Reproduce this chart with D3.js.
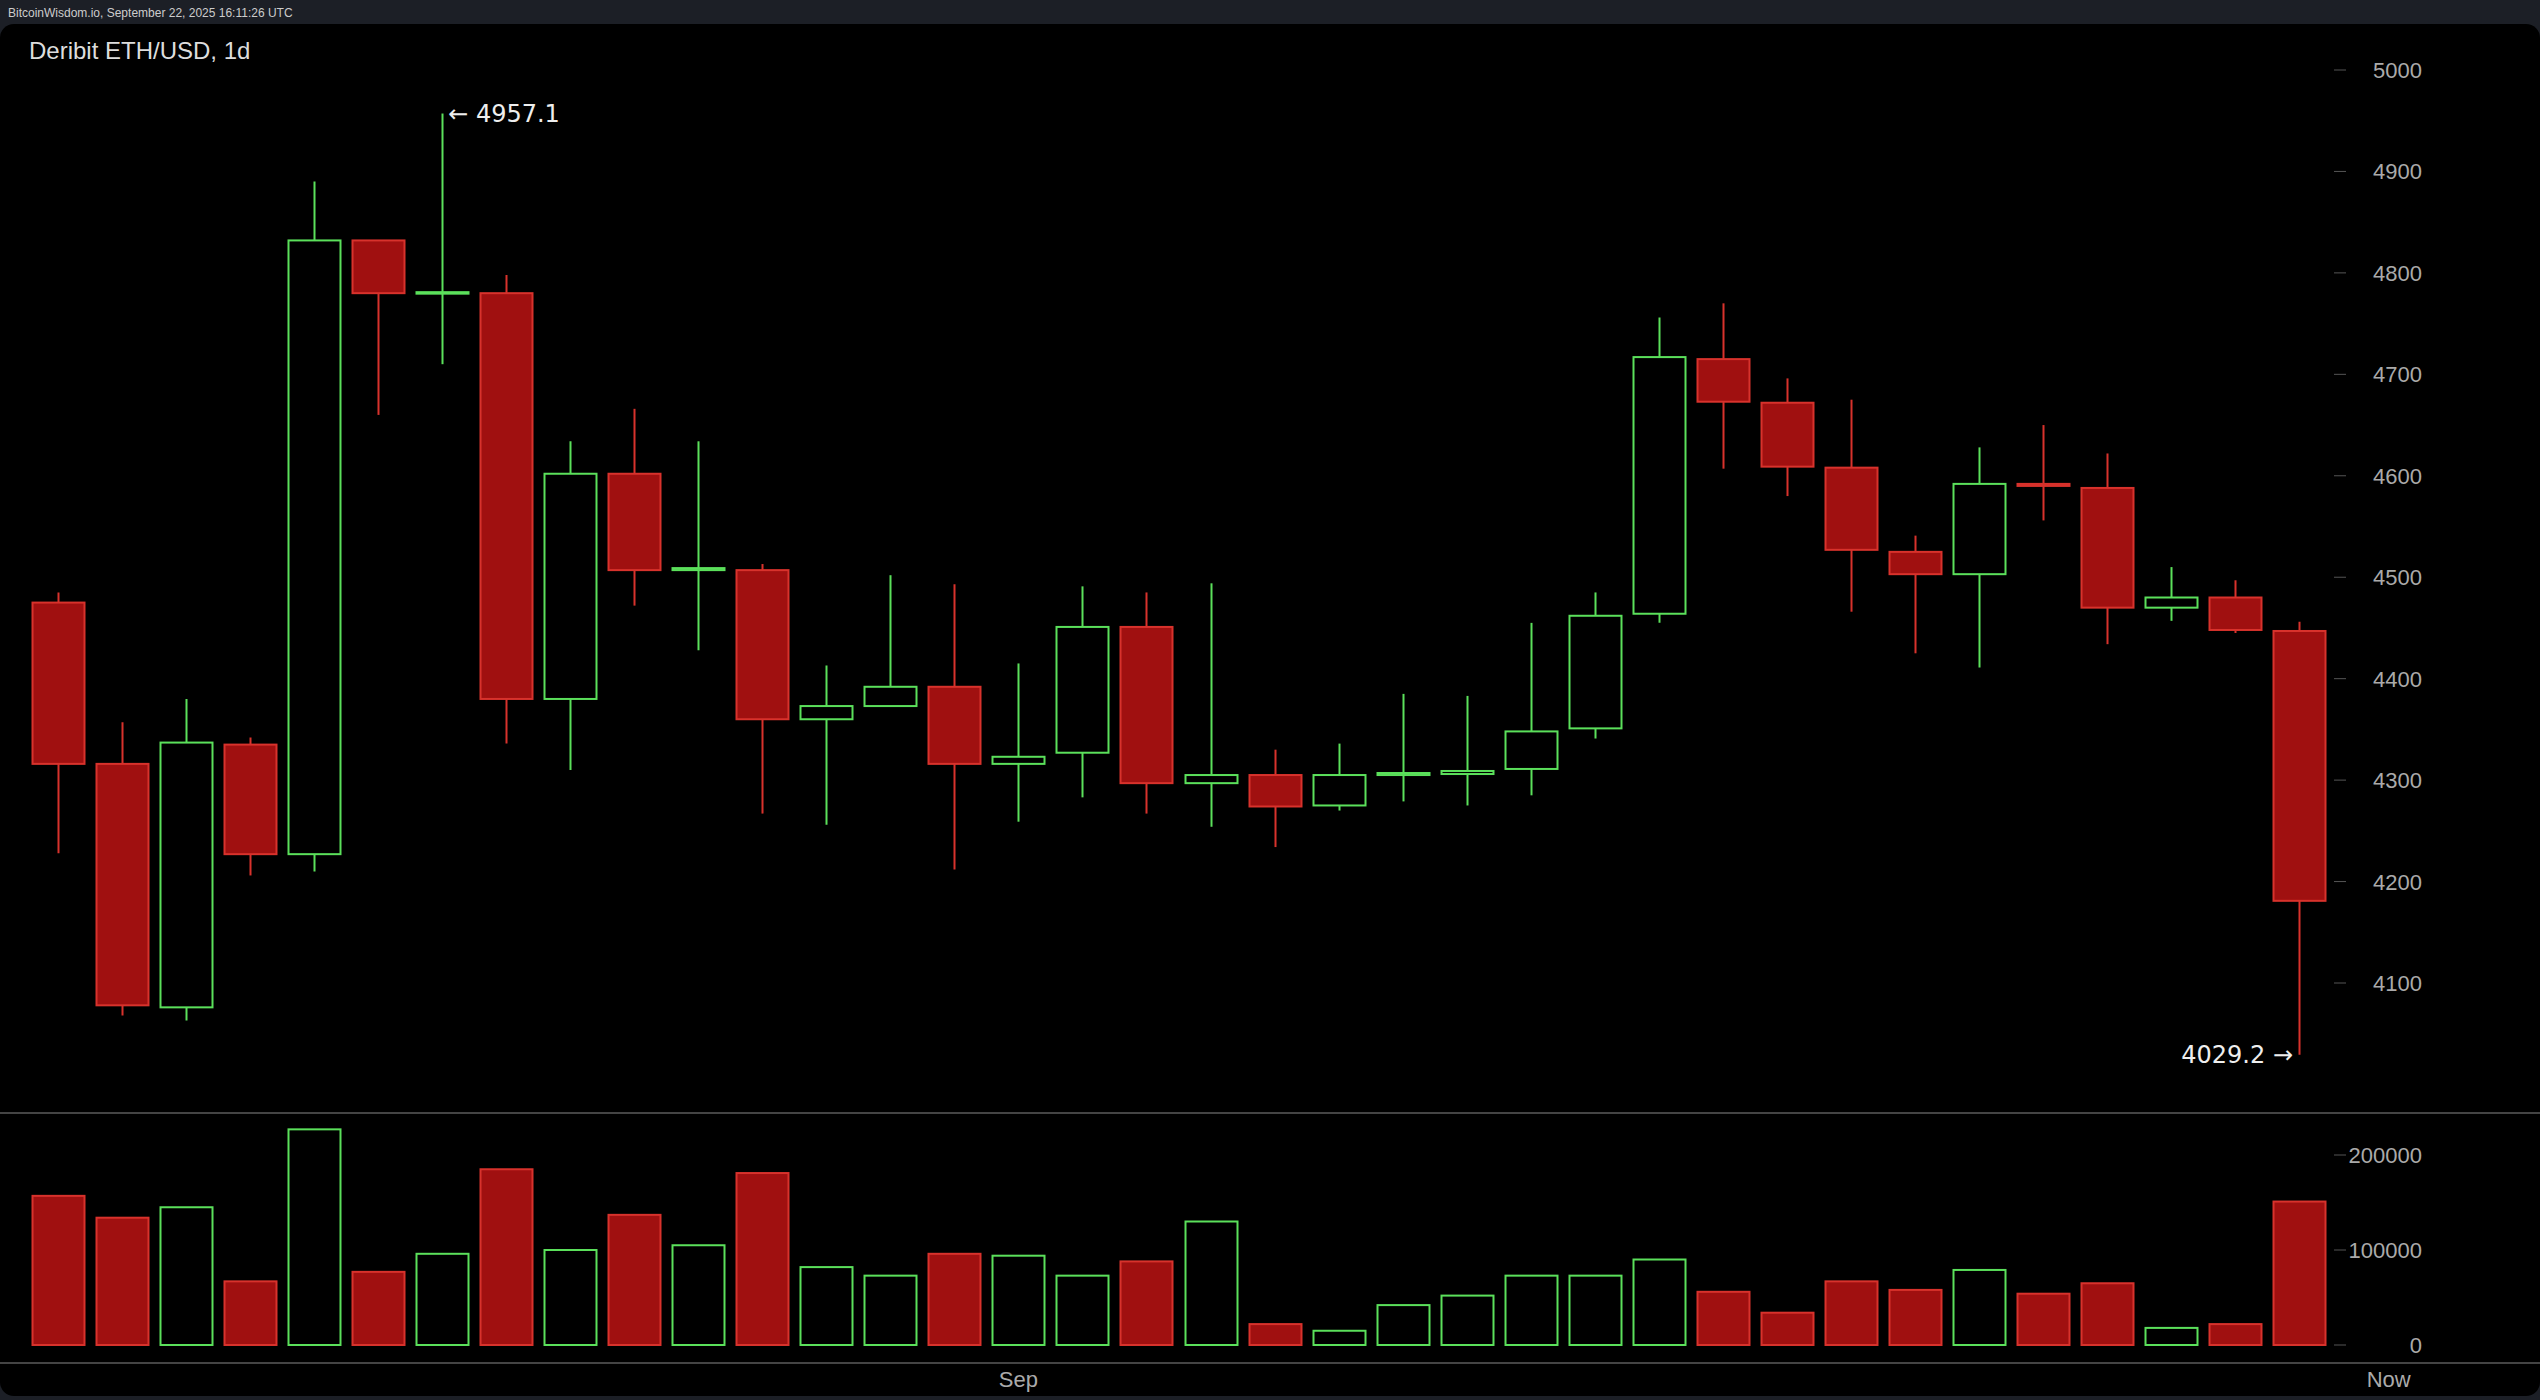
<!DOCTYPE html><html><head><meta charset="utf-8">
<script src="https://cdn.jsdelivr.net/npm/d3@7"></script>
<style>body{margin:0;background:#1c1f26;}svg{display:block}</style></head><body>
<svg id="c" width="2540" height="1400"></svg>
<script>
const opens =[4475,4316,4076,4335,4227,4832,4780,4780,4380,4602,4507,4507,4360,4373,4392,4316,4327,4451,4297,4305,4275,4305,4306,4311,4351,4464,4715,4672,4608,4525,4503,4592,4588,4470,4480,4447];
const closes=[4316,4078,4337,4227,4832,4780,4781,4380,4602,4507,4509,4360,4373,4392,4316,4323,4451,4297,4305,4274,4305,4307,4309,4348,4462,4717,4673,4609,4527,4503,4592,4590,4470,4480,4448,4181];
const highs =[4485,4357,4380,4342,4890,4832,4957.1,4798,4634,4666,4634,4513,4413,4502,4493,4415,4491,4485,4494,4330,4336,4385,4383,4455,4485,4756,4770,4696,4675,4541,4628,4650,4622,4510,4497,4456];
const lows  =[4228,4068,4063,4206,4210,4660,4710,4336,4310,4472,4428,4267,4256,4373,4212,4259,4283,4267,4254,4234,4270,4279,4275,4285,4341,4455,4607,4580,4466,4425,4411,4556,4434,4457,4445,4029.2];
const volumes=[157000,134000,145000,67000,227000,77000,96000,185000,100000,137000,105000,181000,82000,73000,96000,94000,73000,88000,130000,22000,15000,42000,52000,73000,73000,90000,56000,34000,67000,58000,79000,54000,65000,18000,22000,151000];
const priceTicks=[4100,4200,4300,4400,4500,4600,4700,4800,4900,5000];
const volTicks=[0,100000,200000];
const xLabels=[{i:15,t:"Sep"},{i:36.4,t:"Now"}];

const svg=d3.select("#c");
svg.append("rect").attr("x",0).attr("y",24).attr("width",2540).attr("height",1372).attr("rx",14).attr("fill","#000");
svg.append("text").attr("x",8).attr("y",17).attr("fill","#ccc").attr("font-size",12).attr("font-family","Liberation Sans").text("BitcoinWisdom.io, September 22, 2025 16:11:26 UTC");
svg.append("text").attr("x",29).attr("y",59).attr("fill","#ddd").attr("font-size",24).attr("font-family","Liberation Sans").text("Deribit ETH/USD, 1d");
svg.append("line").attr("x1",0).attr("x2",2540).attr("y1",1113).attr("y2",1113).attr("stroke","#444").attr("stroke-width",2);
svg.append("line").attr("x1",0).attr("x2",2540).attr("y1",1363).attr("y2",1363).attr("stroke","#444").attr("stroke-width",2);

const x=d3.scaleLinear().domain([0,35]).range([58,2299]);
const y=d3.scaleLinear().domain([4100,5000]).range([983,70]);
const yv=d3.scaleLinear().domain([0,200000]).range([1345,1155]);
const bw=52;
const red="#a01010", redS="#d8322c", green="#5be05b";

const font="Liberation Sans";
priceTicks.forEach(t=>{
  svg.append("line").attr("x1",2334).attr("x2",2346).attr("y1",y(t)).attr("y2",y(t)).attr("stroke","#555");
  svg.append("text").attr("x",2422).attr("y",y(t)+8).attr("text-anchor","end").attr("fill","#aaa").attr("font-size",22).attr("font-family",font).text(t);
});
volTicks.forEach(t=>{
  svg.append("line").attr("x1",2334).attr("x2",2346).attr("y1",yv(t)).attr("y2",yv(t)).attr("stroke","#555");
  svg.append("text").attr("x",2422).attr("y",yv(t)+8).attr("text-anchor","end").attr("fill","#aaa").attr("font-size",22).attr("font-family",font).text(d3.format("d")(t));
});
xLabels.forEach(l=>svg.append("text").attr("x",x(l.i)).attr("y",1387).attr("text-anchor","middle").attr("fill","#aaa").attr("font-size",22).attr("font-family",font).text(l.t));

const data=opens.map((o,i)=>({i,o,c:closes[i],h:highs[i],l:lows[i],v:volumes[i],up:closes[i]>=o}));
const g=svg.append("g");
data.forEach(d=>{
  const cx=Math.round(x(d.i))+0.5, col=d.up?green:redS;
  g.append("line").attr("x1",cx).attr("x2",cx).attr("y1",y(d.h)).attr("y2",y(d.l)).attr("stroke",col).attr("stroke-width",2);
  const top=y(Math.max(d.o,d.c)), bot=y(Math.min(d.o,d.c));
  g.append("rect").attr("x",cx-bw/2).attr("y",top).attr("width",bw).attr("height",Math.max(bot-top,1.5))
    .attr("fill",d.up?"#000":red).attr("stroke",col).attr("stroke-width",2);
  g.append("rect").attr("x",cx-bw/2).attr("y",yv(d.v)).attr("width",bw).attr("height",yv(0)-yv(d.v))
    .attr("fill",d.up?"#000":red).attr("stroke",col).attr("stroke-width",2);
});
const hi=data[6], lo=data[35];
svg.append("text").attr("x",x(hi.i)+6).attr("y",y(hi.h)+8).attr("fill","#eee").attr("font-size",24).attr("font-family","DejaVu Sans").text("← "+hi.h.toFixed(1));
svg.append("text").attr("x",x(lo.i)-6).attr("y",y(lo.l)+8).attr("text-anchor","end").attr("fill","#eee").attr("font-size",24).attr("font-family","DejaVu Sans").text(lo.l.toFixed(1)+" →");
</script></body></html>
